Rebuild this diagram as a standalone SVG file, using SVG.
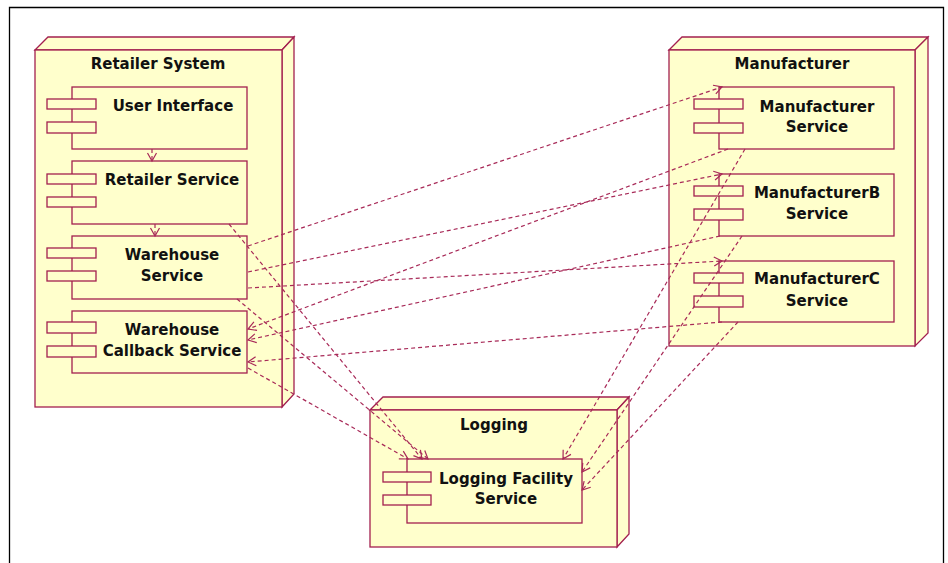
<svg xmlns="http://www.w3.org/2000/svg" width="948" height="563" viewBox="0 0 948 563">
<style>
.nd{fill:#FFFFCC;stroke:#A3204F;stroke-width:1.3}
.cp{fill:#FFFFCC;stroke:#A3204F;stroke-width:1.3}
.t{font-family:"DejaVu Sans",Verdana,sans-serif;font-weight:bold;font-size:15px;fill:#111;text-anchor:middle}
.c{fill:none;stroke:#A82A58;stroke-width:1.2;stroke-dasharray:4,3;marker-end:url(#ah)}
</style>
<defs>
<marker id="ah" markerUnits="userSpaceOnUse" markerWidth="12" markerHeight="12" viewBox="-10 -6 12 12" refX="0" refY="0" orient="auto">
<path d="M-8,-4.5 L0,0 L-8,4.5" fill="none" stroke="#A82A58" stroke-width="1.2"/>
</marker>
</defs>
<rect x="0" y="0" width="948" height="563" fill="#fff"/>
<path d="M9.5,563 V7.5 H943.5 V563" fill="none" stroke="#000" stroke-width="1.3"/>

<g id="retailer-system">
<path class="nd" d="M35,50 L48,37 L294,37 L282,50 Z"/>
<path class="nd" d="M282,50 L294,37 L294,394 L282,407 Z"/>
<rect class="nd" x="35" y="50" width="247" height="357"/>
<text class="t" x="158" y="69">Retailer System</text>
</g>
<g id="user-interface">
<rect class="cp" x="72" y="87" width="175" height="62"/>
<rect class="cp" x="47" y="99" width="49" height="10"/>
<rect class="cp" x="47" y="122" width="49" height="11"/>
<text class="t" x="173" y="111">User Interface</text>
</g>
<g id="retailer-service">
<rect class="cp" x="72" y="161" width="175" height="63"/>
<rect class="cp" x="47" y="174" width="49" height="10"/>
<rect class="cp" x="47" y="197" width="49" height="10"/>
<text class="t" x="172" y="185">Retailer Service</text>
</g>
<g id="warehouse-service">
<rect class="cp" x="72" y="236" width="175" height="63"/>
<rect class="cp" x="47" y="248" width="49" height="10"/>
<rect class="cp" x="47" y="271" width="49" height="10"/>
<text class="t" x="172" y="260">Warehouse</text>
<text class="t" x="172" y="281">Service</text>
</g>
<g id="warehouse-callback-service">
<rect class="cp" x="72" y="311" width="175" height="62"/>
<rect class="cp" x="47" y="322" width="49" height="11"/>
<rect class="cp" x="47" y="346" width="49" height="11"/>
<text class="t" x="172" y="335">Warehouse</text>
<text class="t" x="172" y="356">Callback Service</text>
</g>

<g id="manufacturer">
<path class="nd" d="M669,50 L682,37 L928,37 L915,50 Z"/>
<path class="nd" d="M915,50 L928,37 L928,333 L915,346 Z"/>
<rect class="nd" x="669" y="50" width="246" height="296"/>
<text class="t" x="792" y="69">Manufacturer</text>
</g>
<g id="manufacturer-service">
<rect class="cp" x="719" y="87" width="175" height="62"/>
<rect class="cp" x="694" y="99" width="49" height="10"/>
<rect class="cp" x="694" y="123" width="49" height="10"/>
<text class="t" x="817" y="112">Manufacturer</text>
<text class="t" x="817" y="132">Service</text>
</g>
<g id="manufacturerb-service">
<rect class="cp" x="719" y="174" width="175" height="62"/>
<rect class="cp" x="694" y="186" width="49" height="10"/>
<rect class="cp" x="694" y="209" width="49" height="11"/>
<text class="t" x="817" y="198">ManufacturerB</text>
<text class="t" x="817" y="219">Service</text>
</g>
<g id="manufacturerc-service">
<rect class="cp" x="719" y="261" width="175" height="61"/>
<rect class="cp" x="694" y="273" width="49" height="10"/>
<rect class="cp" x="694" y="296" width="49" height="11"/>
<text class="t" x="817" y="284">ManufacturerC</text>
<text class="t" x="817" y="306">Service</text>
</g>

<g id="logging">
<path class="nd" d="M370,410 L383,397 L629,397 L617,410 Z"/>
<path class="nd" d="M617,410 L629,397 L629,534 L617,547 Z"/>
<rect class="nd" x="370" y="410" width="247" height="137"/>
<text class="t" x="494" y="430">Logging</text>
</g>
<g id="logging-facility-service">
<rect class="cp" x="407" y="459" width="175" height="64"/>
<rect class="cp" x="383" y="472" width="48" height="10"/>
<rect class="cp" x="383" y="495" width="48" height="10"/>
<text class="t" x="506" y="484">Logging Facility</text>
<text class="t" x="506" y="504">Service</text>
</g>

<g id="connectors">
<path class="c" d="M152,149 L152,161"/>
<path class="c" d="M155,224 L155,236"/>
<path class="c" d="M229,224 L422,459"/>
<path class="c" d="M237,299 L428,459"/>
<path class="c" d="M248,368 L408,459"/>
<path class="c" d="M248,246 L722,87"/>
<path class="c" d="M248,272 L722,174"/>
<path class="c" d="M248,288 L722,261"/>
<path class="c" d="M728,149 L248,329"/>
<path class="c" d="M720,236 L248,340"/>
<path class="c" d="M722,322 L248,362"/>
<path class="c" d="M745,149 L563,459"/>
<path class="c" d="M742,236 L582,472"/>
<path class="c" d="M738,322 L582,490"/>
</g>
</svg>
